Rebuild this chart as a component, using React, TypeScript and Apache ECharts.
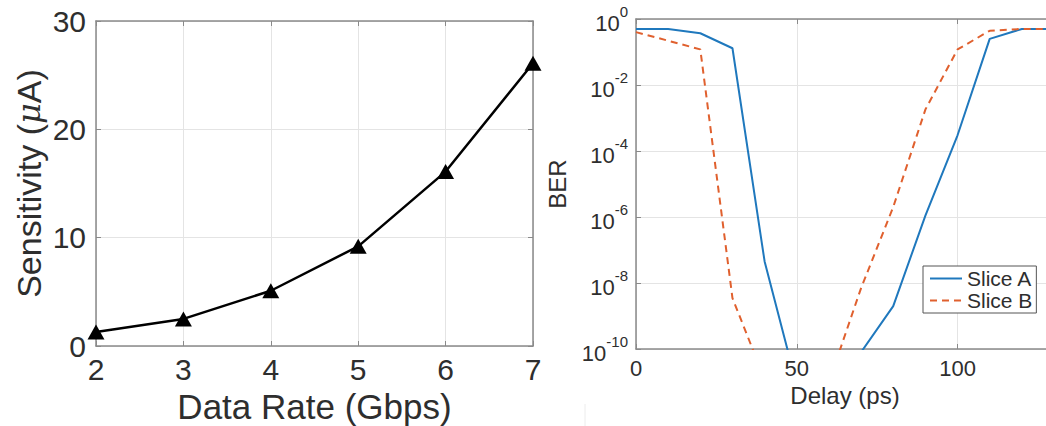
import React, { useEffect, useRef } from "react";
import * as echarts from "echarts";

// Left chart: sensitivity vs data rate
const dataRateGbps = [2, 3, 4, 5, 6, 7];
const sensitivityUA = [1.3, 2.5, 5.1, 9.2, 16.1, 26.1];

// Right chart: BER vs delay
const delayPs = [0, 10, 20, 30, 40, 50, 60, 70, 80, 90, 100, 110, 120, 130];
const berSliceA = [0.5, 0.5, 0.37, 0.13, 4.5e-8, 8e-12, 1e-14, 8e-11, 2e-9, 1.1e-6, 3e-4, 0.25, 0.5, 0.5];
const berSliceB = [0.4, 0.22, 0.12, 3.5e-9, 1.2e-11, 1e-14, 1e-11, 7e-9, 2e-6, 1.8e-3, 0.12, 0.44, 0.5, 0.5];
const seriesNames = ["Slice A", "Slice B"];

const FONT = '"Liberation Sans", Arial, Helvetica, sans-serif';
const TXT = "#2e2e2e";
const AX = "#8a8a8a";
const GRIDC = "#e4e4e4";
const BLUE = "#1f78bd";
const ORANGE = "#e0602e";

export default function App() {
  const ref = useRef<HTMLDivElement>(null);
  useEffect(() => {
    if (!ref.current) return;
    const chart = echarts.init(ref.current, undefined, { renderer: "svg" });
    const axisLine = { show: true, onZero: false, lineStyle: { color: AX, width: 1.5 } };
    const axisTick = { show: true, inside: true, length: 5, lineStyle: { color: AX, width: 1 } };
    const split = { show: true, lineStyle: { color: GRIDC, width: 1 } };
    const option: any = {
      animation: false,
      backgroundColor: "#ffffff",
      textStyle: { fontFamily: FONT },
      grid: [
        { left: 96, top: 21, width: 437, height: 325, containLabel: false, outerBoundsMode: "none" },
        { left: 636, top: 19, width: 418, height: 330, containLabel: false, outerBoundsMode: "none" },
      ],
      legend: {
        orient: "vertical",
        left: 923,
        top: 266,
        data: seriesNames,
        backgroundColor: "#ffffff",
        borderColor: "#555555",
        borderWidth: 1,
        borderRadius: 0,
        padding: [2, 4, 2, 6],
        itemGap: 1,
        itemWidth: 32,
        itemHeight: 14,
        itemStyle: { color: "rgba(0,0,0,0)", borderColor: "rgba(0,0,0,0)", borderWidth: 0, opacity: 0 },
        textStyle: { fontSize: 21, color: TXT, fontFamily: FONT, lineHeight: 21 },
      },
      xAxis: [
        {
          gridIndex: 0, type: "value", min: 2, max: 7, interval: 1, position: "bottom",
          axisLine, axisTick,
          axisLabel: { fontSize: 30, color: TXT, margin: 8, fontFamily: FONT },
          splitLine: split,
          name: "Data Rate (Gbps)", nameLocation: "middle", nameGap: 59,
          nameTextStyle: { fontSize: 35, color: TXT, fontFamily: FONT, verticalAlign: "middle" },
        },
        {
          gridIndex: 0, type: "value", min: 2, max: 7, interval: 1, position: "top",
          axisLine, axisTick, axisLabel: { show: false }, splitLine: { show: false },
        },
        {
          gridIndex: 1, type: "value", min: 0, max: 130, interval: 50, position: "bottom",
          axisLine, axisTick,
          axisLabel: { fontSize: 22, color: TXT, margin: 8, fontFamily: FONT, showMaxLabel: false },
          splitLine: split,
          name: "Delay (ps)", nameLocation: "middle", nameGap: 42,
          nameTextStyle: { fontSize: 24, color: TXT, fontFamily: FONT, verticalAlign: "middle" },
        },
        {
          gridIndex: 1, type: "value", min: 0, max: 130, interval: 50, position: "top",
          axisLine, axisTick, axisLabel: { show: false }, splitLine: { show: false },
        },
      ],
      yAxis: [
        {
          gridIndex: 0, type: "value", min: 0, max: 30, interval: 10, position: "left",
          axisLine, axisTick,
          axisLabel: { fontSize: 30, color: TXT, margin: 10, fontFamily: FONT },
          splitLine: split,
          name: "Sensitivity ({i|μ}A)", nameLocation: "middle", nameGap: 67,
          nameTextStyle: {
            fontSize: 34, color: TXT, fontFamily: FONT, verticalAlign: "middle",
            rich: { i: { fontStyle: "italic", fontFamily: '"DejaVu Serif", serif', fontSize: 32, color: TXT } },
          },
        },
        {
          gridIndex: 0, type: "value", min: 0, max: 30, interval: 10, position: "right",
          axisLine, axisTick, axisLabel: { show: false }, splitLine: { show: false },
        },
        {
          gridIndex: 1, type: "log", logBase: 10, min: 1e-10, max: 1, interval: 2, position: "left",
          axisLine, axisTick,
          axisLabel: {
            margin: 8,
            formatter: (v: number) => `{b|10}{s|${Math.round(Math.log10(v))}}`,
            rich: {
              b: { fontSize: 22, lineHeight: 30, verticalAlign: "bottom", color: TXT, fontFamily: FONT },
              s: { fontSize: 15, lineHeight: 15, verticalAlign: "top", color: TXT, fontFamily: FONT },
            },
          },
          splitLine: split,
          name: "BER", nameLocation: "middle", nameGap: 79,
          nameTextStyle: { fontSize: 24, color: TXT, fontFamily: FONT, verticalAlign: "middle" },
        },
      ],
      series: [
        {
          type: "line", xAxisIndex: 0, yAxisIndex: 0,
          data: dataRateGbps.map((r, i) => [r, sensitivityUA[i]]),
          symbol: "triangle", symbolSize: [17, 15],
          itemStyle: { color: "#000000" },
          lineStyle: { color: "#000000", width: 2.5 },
          clip: false,
        },
        {
          name: seriesNames[0], type: "line", xAxisIndex: 2, yAxisIndex: 2,
          data: delayPs.map((d, i) => [d, berSliceA[i]]),
          symbol: "none", clip: true,
          itemStyle: { color: BLUE },
          lineStyle: { color: BLUE, width: 2 },
        },
        {
          name: seriesNames[1], type: "line", xAxisIndex: 2, yAxisIndex: 2,
          data: delayPs.map((d, i) => [d, berSliceB[i]]),
          symbol: "none", clip: true,
          itemStyle: { color: ORANGE },
          lineStyle: { color: ORANGE, width: 2, type: [7, 5] },
        },
      ],
      graphic: [
        { type: "line", shape: { x1: 585, y1: 404, x2: 585, y2: 426 }, style: { stroke: "#ececec", lineWidth: 1 } },
      ],
    };
    chart.setOption(option);
    return () => chart.dispose();
  }, []);
  return (
    <div
      ref={ref}
      style={{ position: "fixed", left: 0, top: 0, width: 1046, height: 426, background: "#fff" }}
    />
  );
}
